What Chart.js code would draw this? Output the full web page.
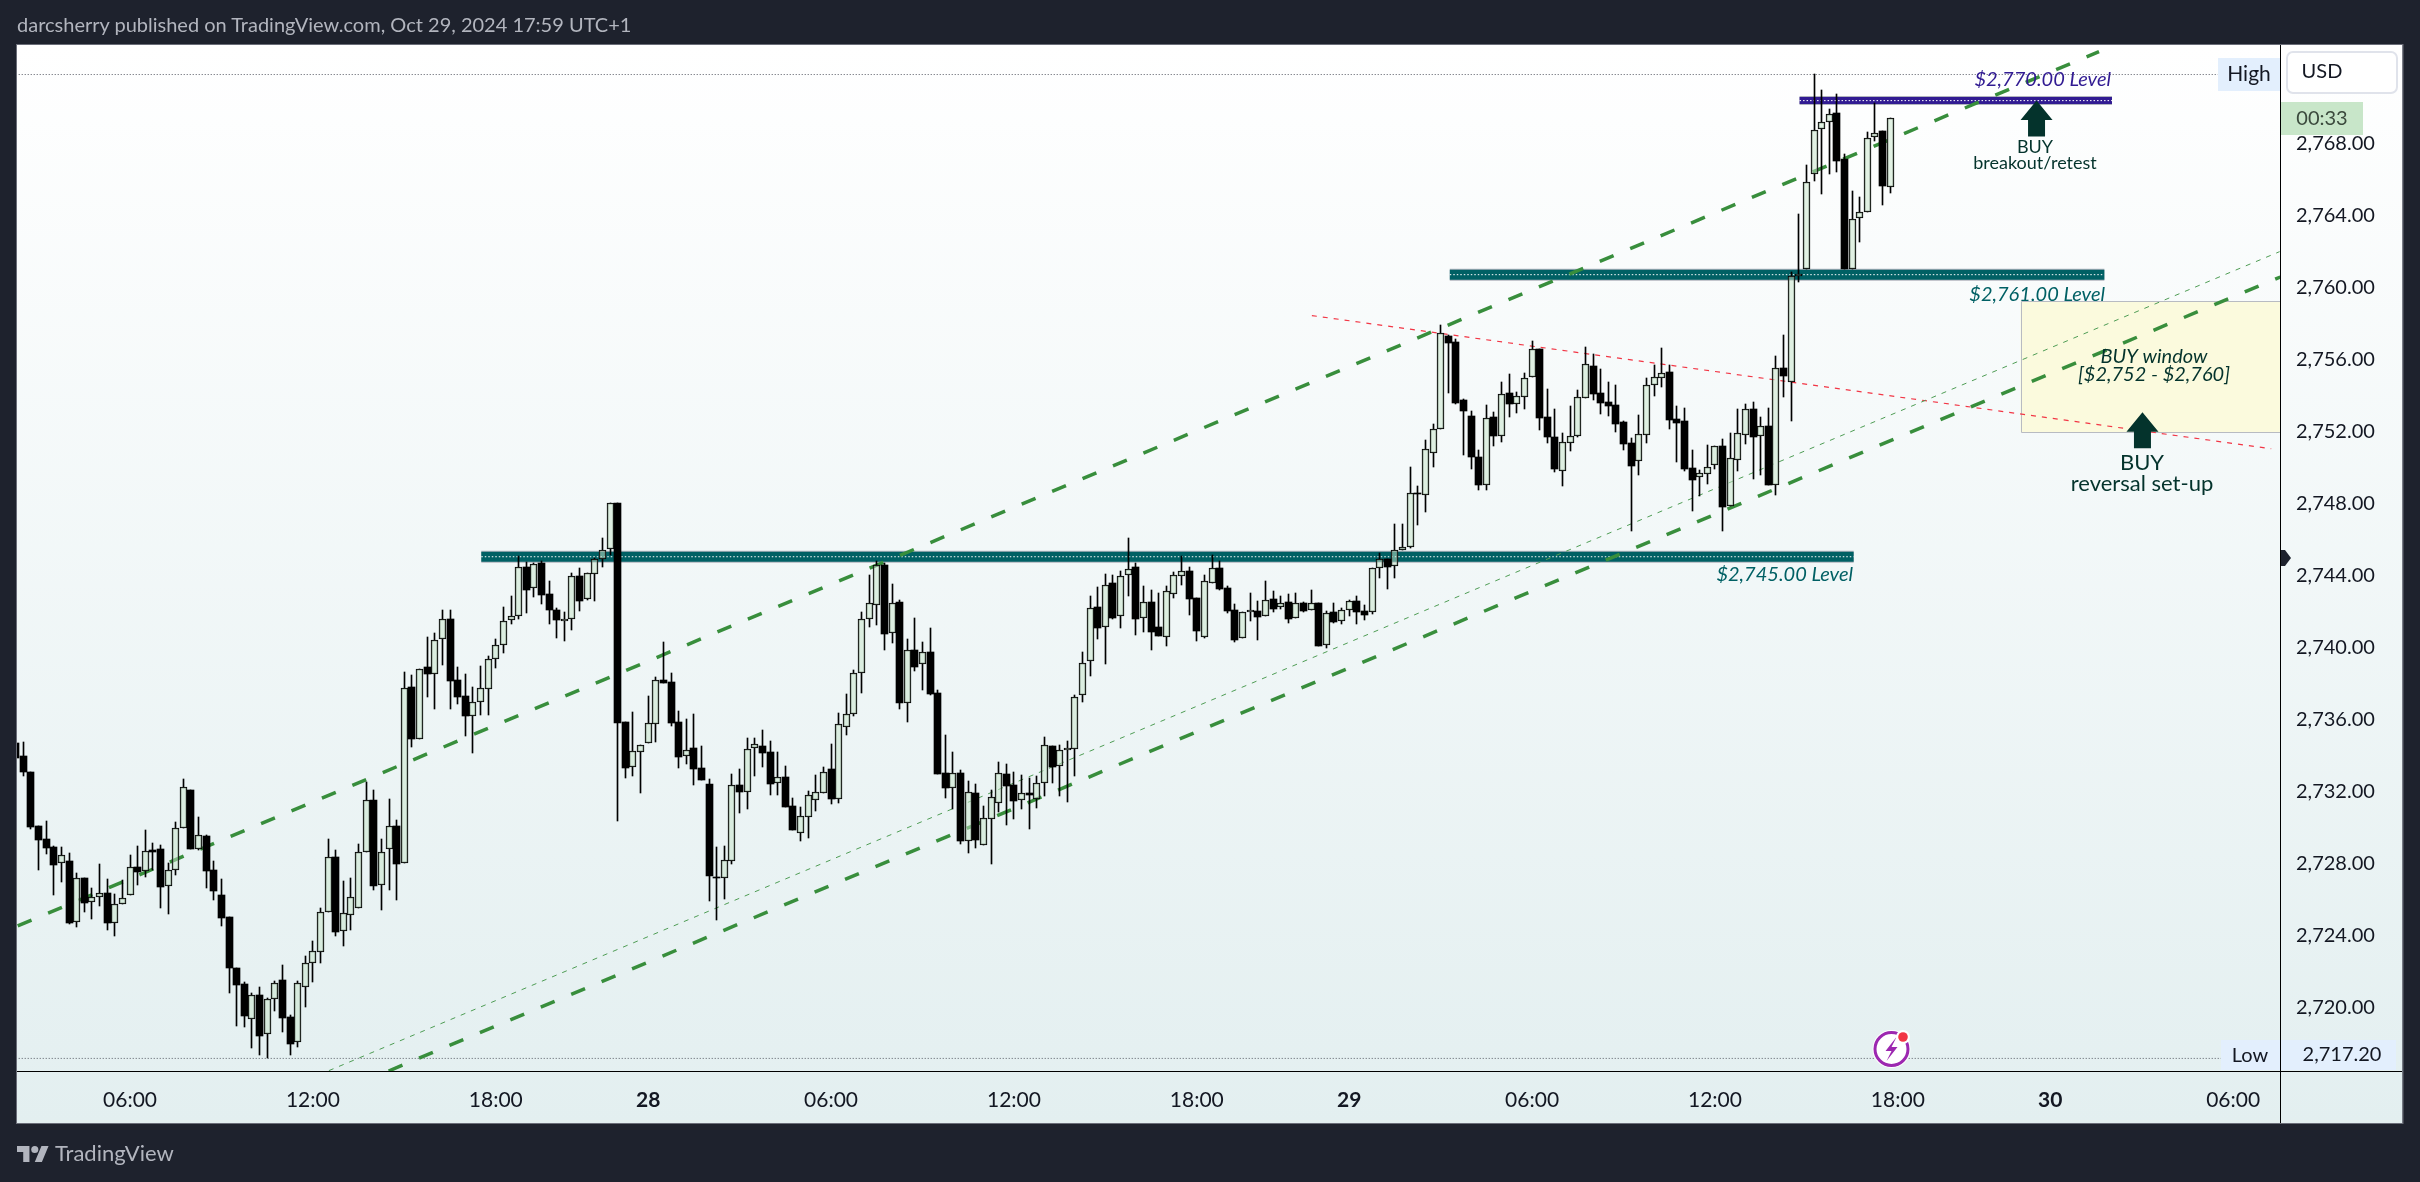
<!DOCTYPE html>
<html>
<head>
<meta charset="utf-8">
<title>XAUUSD 15m</title>
<script src="https://cdn.jsdelivr.net/npm/chart.js@4"></script>
<style>
  html, body { margin: 0; background: #1e222d; }
  #wrap { position: relative; width: 2420px; height: 1182px; overflow: hidden; }
  canvas { position: absolute; left: 0; top: 0; }
  #title { position: absolute; left: 17px; top: 12px; color: #b2b5be; font: 20px "Lato", sans-serif; white-space: nowrap; }
  #brand { position: absolute; left: 17px; top: 1139px; color: #b2b5be; font: 22px "Lato", sans-serif; display: flex; align-items: center; gap: 6px; }
</style>
</head>
<body>
<div id="wrap">
  <canvas id="chart" width="2420" height="1182"></canvas>
  <div id="title">darcsherry published on TradingView.com, Oct 29, 2024 17:59 UTC+1</div>
  <div id="brand">
    <svg width="32" height="22" viewBox="0 0 36 24" fill="#b2b5be"><path d="M14 22H7V11H0V4h14v18zM28 22h-8l7.5-18h8L28 22z"/><circle cx="20" cy="8" r="4"/></svg>
    <span>TradingView</span>
  </div>
</div>
<script>
// 15 minute candles
const opens = [
  2734.68,2733.97,2733.08,2730.08,2729.36,2728.92,2728.05,2728.12,2724.73,2727.18,
  2725.84,2726.16,2726.36,2724.68,2725.73,2726.23,2727.81,2727.56,2728.73,2728.81,
  2726.73,2727.62,2729.95,2732.08,2728.79,2729.53,2727.64,2726.25,2725.03,2722.19,
  2721.31,2719.34,2720.69,2718.51,2720.45,2721.53,2719.47,2718.06,2721.16,2722.45,
  2723.06,2725.29,2728.36,2724.23,2725.16,2725.51,2728.62,2731.53,2726.79,2728.79,
  2730.08,2728.01,2737.79,2734.90,2738.90,2738.51,2740.45,2741.56,2738.18,2737.31,
  2736.21,2736.95,2737.71,2739.38,2740.12,2741.51,2741.73,2744.47,2743.29,2744.69,
  2742.97,2742.08,2741.45,2741.56,2743.97,2742.71,2744.06,2744.90,2745.49,2748.01,
  2735.86,2733.34,2734.18,2734.68,2735.73,2738.19,2738.08,2735.86,2733.95,2734.40,
  2733.31,2732.42,2727.25,2727.21,2728.16,2732.36,2731.99,2734.44,2734.53,2734.19,
  2732.45,2732.81,2731.19,2729.71,2730.60,2731.55,2731.94,2733.25,2731.60,2735.60,
  2736.32,2738.60,2741.56,2742.38,2744.58,2740.82,2742.53,2736.94,2739.86,2739.10,
  2739.75,2737.47,2733.03,2732.21,2733.03,2729.27,2731.92,2729.05,2730.49,2731.38,
  2732.95,2732.34,2731.51,2731.90,2731.56,2732.45,2734.53,2733.40,2734.29,2734.34,
  2737.34,2739.23,2742.23,2741.12,2743.56,2741.73,2744.01,2744.45,2741.62,2742.51,
  2741.12,2740.60,2742.95,2743.95,2744.23,2742.73,2740.60,2743.56,2744.40,2743.29,
  2742.06,2740.51,2741.95,2742.01,2741.73,2742.68,2742.23,2742.51,2741.62,2742.45,
  2742.06,2742.45,2740.12,2741.95,2741.45,2742.06,2742.56,2742.01,2741.95,2744.40,
  2744.92,2744.51,2745.42,2745.60,2748.56,2748.49,2750.82,2752.12,2757.31,2756.97,
  2753.75,2752.86,2750.58,2749.05,2752.81,2751.77,2754.14,2753.55,2753.93,2755.05,
  2756.58,2752.81,2751.69,2749.82,2751.38,2751.77,2753.88,2755.64,2754.14,2753.64,
  2753.47,2752.53,2751.36,2750.38,2751.82,2754.60,2754.99,2755.31,2752.69,2752.58,
  2749.97,2749.45,2749.66,2750.12,2751.19,2747.88,2750.44,2751.82,2753.25,2751.73,
  2752.31,2749.05,2755.53,2754.73,2760.66,2761.05,2766.29,2768.83,2769.18,2769.68,
  2767.12,2761.05,2763.88,2764.21,2768.34,2768.68,2765.60
];
const highs = [
  2734.68,2734.75,2733.08,2730.08,2730.36,2728.97,2728.92,2728.58,2727.47,2727.18,
  2726.64,2727.97,2727.14,2726.31,2727.08,2728.47,2728.97,2729.86,2729.14,2729.03,
  2728.03,2730.31,2732.69,2732.08,2730.58,2729.58,2728.14,2727.14,2725.03,2722.19,
  2721.42,2720.81,2721.14,2720.53,2721.47,2722.36,2719.58,2721.47,2722.86,2723.69,
  2725.53,2729.36,2728.75,2727.03,2727.19,2729.08,2732.53,2732.08,2729.36,2731.58,
  2730.42,2738.64,2738.47,2738.79,2740.58,2740.79,2742.08,2742.08,2738.92,2738.53,
  2737.81,2738.97,2739.53,2740.47,2742.25,2742.86,2745.08,2744.75,2744.69,2744.81,
  2743.69,2742.19,2741.97,2744.14,2744.42,2744.12,2744.97,2746.08,2748.01,2748.01,
  2735.86,2736.42,2734.56,2737.31,2738.36,2740.31,2738.58,2736.47,2736.03,2736.31,
  2734.53,2732.69,2728.92,2728.97,2732.97,2733.25,2734.97,2734.97,2735.42,2734.81,
  2734.19,2733.42,2731.64,2731.14,2732.03,2732.92,2733.36,2734.64,2736.36,2737.42,
  2738.75,2741.97,2744.03,2744.81,2744.69,2743.53,2742.64,2740.47,2741.64,2740.31,
  2741.08,2737.64,2735.14,2734.19,2733.19,2732.56,2732.42,2731.19,2732.08,2733.66,
  2733.53,2733.08,2732.90,2732.75,2732.86,2735.03,2734.53,2734.58,2734.81,2737.36,
  2739.75,2742.86,2743.36,2744.08,2744.03,2744.25,2746.08,2744.69,2743.42,2743.19,
  2743.03,2743.42,2744.19,2745.08,2744.47,2742.73,2744.03,2745.14,2744.81,2743.42,
  2742.42,2741.95,2743.03,2742.58,2743.69,2743.14,2742.86,2742.97,2743.03,2742.51,
  2743.19,2742.45,2742.03,2742.47,2742.18,2742.64,2742.86,2742.36,2744.40,2745.25,
  2744.92,2746.86,2746.86,2750.03,2748.97,2751.53,2752.42,2757.92,2757.36,2757.14,
  2753.81,2753.14,2750.97,2753.47,2753.08,2754.75,2755.19,2754.19,2755.25,2757.03,
  2756.58,2754.36,2753.25,2751.92,2753.42,2754.31,2756.69,2756.31,2755.47,2754.75,
  2754.58,2752.58,2751.64,2752.92,2754.97,2755.69,2756.64,2755.69,2753.42,2753.31,
  2750.97,2749.86,2751.25,2751.19,2751.58,2751.92,2753.25,2753.53,2753.64,2752.81,
  2753.31,2756.19,2757.36,2760.88,2764.08,2766.81,2771.86,2770.97,2769.92,2770.75,
  2767.42,2765.36,2765.03,2768.64,2770.25,2768.68,2769.40
];
const lows = [
  2733.88,2732.88,2729.94,2727.64,2728.53,2726.25,2726.97,2724.64,2724.47,2725.31,
  2724.92,2725.64,2724.31,2723.97,2725.73,2726.23,2726.81,2727.25,2727.64,2725.53,
  2725.19,2727.36,2729.95,2728.82,2728.75,2726.64,2725.97,2724.53,2720.81,2718.97,
  2718.92,2717.75,2717.36,2717.20,2719.81,2718.64,2717.36,2717.81,2720.03,2721.42,
  2722.47,2725.29,2723.97,2723.42,2724.31,2725.51,2728.62,2726.53,2725.42,2726.53,
  2725.97,2728.01,2734.47,2734.90,2737.25,2736.58,2739.03,2736.58,2736.86,2735.08,
  2734.14,2736.25,2736.25,2738.86,2739.69,2741.31,2741.58,2741.92,2742.81,2742.42,
  2741.31,2740.53,2740.36,2740.97,2742.03,2742.64,2742.58,2744.47,2745.14,2730.36,
  2732.75,2732.86,2731.92,2734.68,2734.75,2738.05,2735.64,2733.31,2733.53,2732.36,
  2732.64,2725.92,2724.86,2726.03,2727.97,2730.80,2731.03,2732.86,2733.36,2731.81,
  2731.79,2731.14,2729.86,2729.25,2729.42,2730.92,2731.94,2731.31,2731.36,2735.14,
  2736.19,2737.47,2741.14,2741.25,2739.86,2740.25,2736.58,2735.86,2738.69,2737.64,
  2737.36,2732.97,2731.64,2731.03,2729.08,2728.58,2728.86,2729.05,2727.97,2730.88,
  2730.14,2730.47,2731.03,2729.92,2731.08,2731.75,2732.47,2731.75,2731.42,2732.86,
  2736.97,2738.42,2740.47,2739.08,2741.60,2741.08,2742.86,2740.69,2740.86,2739.86,
  2740.66,2740.08,2742.75,2743.47,2741.81,2740.36,2740.53,2743.56,2743.19,2741.92,
  2740.31,2740.51,2741.47,2740.42,2741.73,2741.97,2742.14,2741.36,2741.62,2741.97,
  2742.06,2740.08,2739.97,2741.36,2741.31,2741.75,2741.31,2741.53,2741.86,2743.86,
  2743.25,2743.86,2745.42,2745.53,2746.81,2747.53,2750.03,2752.12,2754.14,2753.53,
  2750.69,2749.92,2748.75,2748.75,2751.19,2751.42,2752.80,2753.03,2753.25,2755.05,
  2752.08,2751.36,2749.75,2748.97,2750.92,2751.69,2753.88,2753.75,2752.97,2752.86,
  2751.97,2750.97,2746.47,2749.58,2751.36,2753.97,2754.47,2752.14,2750.31,2749.81,
  2747.58,2748.42,2749.08,2749.92,2746.47,2747.88,2749.81,2751.30,2749.36,2749.58,
  2749.03,2748.47,2753.92,2752.60,2760.31,2761.05,2765.92,2765.19,2766.31,2766.42,
  2761.05,2761.05,2762.53,2764.21,2768.14,2764.58,2765.25
];
const closes = [
  2733.88,2733.10,2730.05,2729.31,2728.88,2727.94,2728.45,2724.71,2727.18,2725.82,
  2726.16,2726.34,2724.71,2725.73,2726.06,2727.79,2727.55,2728.68,2728.66,2726.71,
  2727.62,2729.95,2732.23,2728.82,2729.56,2727.60,2726.47,2724.97,2722.19,2721.25,
  2719.53,2720.68,2718.42,2720.45,2721.34,2719.42,2717.97,2721.34,2722.45,2723.12,
  2725.29,2728.34,2724.19,2725.23,2726.12,2728.62,2731.51,2726.75,2728.62,2730.06,
  2727.97,2737.73,2734.94,2738.79,2738.55,2740.40,2741.56,2738.16,2737.27,2736.19,
  2736.95,2737.73,2739.34,2740.12,2741.45,2741.73,2744.45,2743.21,2744.62,2742.92,
  2742.08,2741.53,2741.56,2743.95,2742.58,2744.12,2744.90,2745.40,2748.01,2735.81,
  2733.31,2734.23,2734.56,2735.79,2738.18,2738.05,2735.81,2733.94,2734.29,2733.25,
  2732.64,2727.32,2727.20,2728.18,2732.34,2731.99,2734.34,2734.62,2734.16,2732.42,
  2732.79,2731.14,2729.86,2730.62,2731.79,2731.95,2733.06,2731.58,2735.73,2736.29,
  2738.56,2741.56,2742.45,2744.58,2740.75,2742.45,2736.92,2739.84,2738.92,2739.73,
  2737.42,2732.97,2732.19,2733.01,2729.25,2731.95,2729.31,2730.51,2731.68,2733.01,
  2732.32,2731.49,2731.90,2731.79,2732.45,2734.56,2733.36,2734.29,2734.40,2737.23,
  2739.12,2742.18,2741.08,2743.45,2741.64,2743.95,2744.34,2741.60,2742.51,2740.84,
  2740.66,2743.12,2744.01,2744.23,2742.68,2740.94,2743.68,2744.40,2743.25,2742.03,
  2740.42,2741.95,2742.06,2741.71,2742.62,2742.16,2742.45,2741.60,2742.45,2742.05,
  2742.45,2740.08,2741.90,2741.42,2742.06,2742.56,2741.99,2741.82,2744.40,2744.90,
  2744.49,2745.40,2745.60,2748.56,2748.50,2751.01,2752.12,2757.45,2756.94,2753.58,
  2753.14,2750.58,2749.03,2752.73,2751.75,2754.06,2753.53,2753.95,2754.95,2756.56,
  2752.75,2751.69,2749.92,2751.40,2751.73,2753.90,2755.73,2754.08,2753.58,2753.42,
  2752.42,2751.31,2750.08,2751.84,2754.56,2755.01,2755.23,2752.64,2752.47,2749.92,
  2749.31,2749.68,2750.01,2751.18,2747.81,2750.51,2751.90,2753.23,2751.69,2752.29,
  2749.03,2755.51,2755.08,2760.64,2760.77,2765.88,2768.73,2769.18,2769.62,2767.05,
  2761.05,2763.82,2764.21,2768.29,2768.60,2765.66,2769.40
];

// axis ticks
const yTicks = [2720,2724,2728,2732,2736,2740,2744,2748,2752,2756,2760,2764,2768];
const xTickBars = [15,39,63,83,107,131,155,175,199,223,247,267,291];
const xTickLabels = ['06:00','12:00','18:00','28','06:00','12:00','18:00','29','06:00','12:00','18:00','30','06:00'];
const dayLabels = ['28','29','30'];

// drawings: [bar, price] end points
const upperChannel = [[0.26,2724.53],[273.4,2773.10]];
const lowerChannel = [[48.94,2716.47],[297.2,2760.58]];
const thinChannel = [[41.1,2716.49],[297.1,2761.99]];
const redLine = [[170.1,2758.44],[296.0,2751.04]];
const highLine = [[0,2771.83],[289,2771.83]];
const lowLine = [[0,2717.17],[289.4,2717.17]];
const level2745 = [[61.1,2745.04],[241.2,2745.04]];
const level2761 = [[188.2,2760.71],[274.1,2760.71]];
const level2770 = [[234.1,2770.38],[275.1,2770.38]];
const buyWindow = [263.1,298,2751.96,2759.23];
const arrowBars = [265.2,279.1];
const arrowPrices = [2770.38,2753.07];

const FONT = '"Lato", sans-serif';
const toXY = pts => pts.map(p => ({x: p[0], y: p[1]}));
const bars = opens.map((o, i) => i);
const upBars = bars.filter(i => closes[i] > opens[i]);
const downBars = bars.filter(i => closes[i] <= opens[i]);

function candleSet(list, fill, edge, width) {
  return {
    type: 'bar', grouped: false, order: 1, barThickness: width,
    backgroundColor: fill, borderColor: edge, borderWidth: edge ? 1 : 0, borderSkipped: false,
    data: list.map(i => ({x: i, y: [opens[i], closes[i]]}))
  };
}
function wickSet(getRange) {
  return {
    type: 'bar', grouped: false, order: 2, barThickness: 1, backgroundColor: '#000', borderWidth: 0,
    data: bars.map(i => ({x: i, y: getRange(i)}))
  };
}
function lineSet(pts, color, width, dash, order, offset) {
  return {
    type: 'line', order: order, data: toXY(pts), borderColor: color, borderWidth: width,
    borderDash: dash || [], borderDashOffset: offset || 0, borderCapStyle: 'butt',
    pointRadius: 0, fill: false, tension: 0
  };
}
function bandSets(pts, color, width) {
  return [
    lineSet(pts, '#b2b5be', width + 2, null, 8),
    lineSet(pts, color, width, null, 7),
    lineSet(pts, '#ffffff', 1, [1.5, 2], 6)
  ];
}

// snap the bars on whole pixels so the candles stay sharp
const snapBars = {
  id: 'snapBars',
  afterDatasetsUpdate(chart) {
    chart.data.datasets.forEach((ds, n) => {
      if (ds.type !== 'bar') return;
      chart.getDatasetMeta(n).data.forEach(el => {
        el.x = Math.floor(el.x) + 0.5;
        const a = Math.round(el.y), b = Math.round(el.base);
        el.y = a;
        el.base = (a === b && el.height !== 0 && ds.order === 1) ? a + 1 : b;
      });
    });
  }
};

function text(ctx, str, x, y, font, color, align) {
  ctx.font = font + ' ' + FONT;
  ctx.fillStyle = color;
  ctx.textAlign = align || 'center';
  ctx.textBaseline = 'middle';
  ctx.fillText(str, x, y);
}
function box(ctx, x, y, w, h, fill) {
  ctx.fillStyle = fill;
  ctx.fillRect(x, y, w, h);
}
function arrow(ctx, x, y) {
  ctx.fillStyle = '#04332c';
  ctx.beginPath();
  ctx.moveTo(x, y);
  ctx.lineTo(x + 16, y + 19.5);
  ctx.lineTo(x + 8.5, y + 19.5);
  ctx.lineTo(x + 8.5, y + 36);
  ctx.lineTo(x - 8.5, y + 36);
  ctx.lineTo(x - 8.5, y + 19.5);
  ctx.lineTo(x - 16, y + 19.5);
  ctx.closePath();
  ctx.fill();
}

const decorations = {
  id: 'decorations',
  beforeDraw(chart) {
    const ctx = chart.ctx;
    const g = ctx.createLinearGradient(0, 45, 0, 1123);
    g.addColorStop(0, '#ffffff');
    g.addColorStop(1, '#e3eff0');
    box(ctx, 17, 45, 2385.5, 1078, g);
    ctx.strokeStyle = '#6a6d78';
    ctx.lineWidth = 1;
    ctx.strokeRect(16.5, 44.5, 2386.5, 1079);
  },
  beforeDatasetsDraw(chart) {
    const {ctx, chartArea: a, scales: {x, y}} = chart;
    const left = x.getPixelForValue(buyWindow[0]), right = a.right;
    const bottom = y.getPixelForValue(buyWindow[2]), top = y.getPixelForValue(buyWindow[3]);
    box(ctx, left, top, right - left, bottom - top, '#fbfadd');
    ctx.strokeStyle = '#b8bbc2';
    ctx.lineWidth = 1;
    ctx.beginPath();
    ctx.moveTo(right, Math.round(top) + 0.5);
    ctx.lineTo(Math.round(left) + 0.5, Math.round(top) + 0.5);
    ctx.lineTo(Math.round(left) + 0.5, Math.round(bottom) + 0.5);
    ctx.lineTo(right, Math.round(bottom) + 0.5);
    ctx.stroke();
  },
  afterDraw(chart) {
    const {ctx, scales: {x, y}} = chart;
    arrowBars.forEach((b, i) => arrow(ctx, x.getPixelForValue(b), y.getPixelForValue(arrowPrices[i])));

    text(ctx, '$2,770.00 Level', 2111, 80, 'italic 20px', '#311b92', 'right');
    text(ctx, '$2,761.00 Level', 2105, 295, 'italic 20px', '#006064', 'right');
    text(ctx, '$2,745.00 Level', 1853, 575, 'italic 20px', '#006064', 'right');
    text(ctx, 'BUY', 2035, 147, '18px', '#04332c');
    text(ctx, 'breakout/retest', 2035, 163, '18px', '#04332c');
    text(ctx, 'BUY window', 2154, 357, 'italic 20px', '#04332c');
    text(ctx, '[$2,752 - $2,760]', 2154, 375, 'italic 20px', '#04332c');
    text(ctx, 'BUY', 2142, 463, '22px', '#04332c');
    text(ctx, 'reversal set-up', 2142, 484, '22px', '#04332c');

    // axis lines run on through the corner
    ctx.fillStyle = '#000';
    ctx.fillRect(2280, 45, 1, 1078);
    ctx.fillRect(17, 1071, 2385, 1);

    // price scale labels
    box(ctx, 2218, 58, 62, 33, '#e3effd');
    text(ctx, 'High', 2249, 74, '21px', '#131722');
    ctx.fillStyle = '#fff';
    ctx.strokeStyle = '#e0e3eb';
    ctx.lineWidth = 2;
    ctx.beginPath();
    ctx.roundRect(2287, 52, 110, 41, 6);
    ctx.fill();
    ctx.stroke();
    text(ctx, 'USD', 2322, 72, '20px', '#131722');
    box(ctx, 2281, 102, 82, 33, '#c8e6c9');
    text(ctx, '00:33', 2322, 119, '20px', '#3b4a3d');
    box(ctx, 2221, 1040, 59, 30, '#e3effd');
    text(ctx, 'Low', 2250, 1056, '20px', '#131722');
    box(ctx, 2281, 1040, 115, 30, '#e3effd');
    text(ctx, '2,717.20', 2342, 1055, '20px', '#131722');

    // marker on the axis
    ctx.fillStyle = '#1e222d';
    ctx.beginPath();
    ctx.moveTo(2281, 550);
    ctx.lineTo(2285, 550);
    ctx.lineTo(2291, 558);
    ctx.lineTo(2285, 566);
    ctx.lineTo(2281, 566);
    ctx.closePath();
    ctx.fill();

    // lightning badge
    const bx = 1891.5, by = 1049;
    ctx.fillStyle = '#fff';
    ctx.beginPath(); ctx.arc(bx, by, 19, 0, Math.PI * 2); ctx.fill();
    ctx.strokeStyle = '#9c27b0';
    ctx.lineWidth = 3;
    ctx.beginPath(); ctx.arc(bx, by, 16.5, 0, Math.PI * 2); ctx.stroke();
    ctx.fillStyle = '#9c27b0';
    ctx.beginPath();
    ctx.moveTo(bx + 5, by - 12); ctx.lineTo(bx - 6, by + 2); ctx.lineTo(bx, by + 2);
    ctx.lineTo(bx - 5, by + 12); ctx.lineTo(bx + 6, by - 2); ctx.lineTo(bx, by - 2);
    ctx.closePath(); ctx.fill();
    ctx.fillStyle = '#fff';
    ctx.beginPath(); ctx.arc(1903, 1037, 7, 0, Math.PI * 2); ctx.fill();
    ctx.fillStyle = '#f23645';
    ctx.beginPath(); ctx.arc(1903, 1037, 4.8, 0, Math.PI * 2); ctx.fill();
  }
};

new Chart(document.getElementById('chart'), {
  type: 'bar',
  data: {
    datasets: [
      candleSet(downBars, '#000000', null, 7),
      candleSet(upBars, 'rgba(200,230,201,0.5)', '#000000', 7),
      wickSet(i => [Math.max(opens[i], closes[i]), highs[i]]),
      wickSet(i => [lows[i], Math.min(opens[i], closes[i])]),
      lineSet(upperChannel, '#388e3c', 3.5, [15, 18], 3),
      lineSet(lowerChannel, '#388e3c', 3.5, [15, 18], 3),
      lineSet(thinChannel, '#4f9d55', 1, [5, 6], 4),
      lineSet(redLine, '#f23645', 1.2, [5, 6], 4),
      lineSet(highLine, '#555862', 1, [1, 2], 5),
      lineSet(lowLine, '#555862', 1, [1, 2], 5),
      ...bandSets(level2770, '#311b92', 7),
      ...bandSets(level2761, '#006064', 10),
      ...bandSets(level2745, '#006064', 10)
    ]
  },
  options: {
    responsive: false,
    animation: false,
    events: [],
    layout: {padding: {left: 17, top: 45, right: 17.5, bottom: 59}},
    plugins: {legend: {display: false}, tooltip: {enabled: false}},
    scales: {
      x: {
        type: 'linear', offset: false, min: 0.17, max: 297.15,
        grid: {display: false, drawTicks: false},
        border: {display: false},
        afterFit(s) { s.height = 52; },
        afterBuildTicks(s) { s.ticks = xTickBars.map(v => ({value: v})); },
        ticks: {
          autoSkip: false, maxRotation: 0, padding: 17, color: '#131722',
          font: c => ({family: FONT, size: 21, weight: dayLabels.includes(xTickLabels[c.index]) ? '700' : '400'}),
          callback: (v, i) => xTickLabels[i]
        }
      },
      y: {
        position: 'right', min: 2716.47, max: 2773.47,
        grid: {display: false, drawTicks: false},
        border: {display: false},
        afterFit(s) { s.width = 122.5; },
        afterBuildTicks(s) { s.ticks = yTicks.map(v => ({value: v})); },
        ticks: {
          padding: 16, color: '#131722', font: {family: FONT, size: 20},
          callback: v => v.toLocaleString('en-US', {minimumFractionDigits: 2})
        }
      }
    }
  },
  plugins: [snapBars, decorations]
});
</script>
</body>
</html>
